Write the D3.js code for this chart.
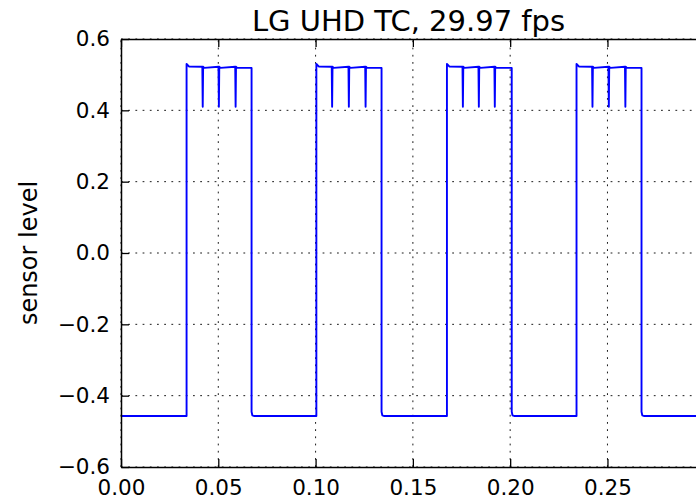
<!DOCTYPE html>
<html>
<head>
<meta charset="utf-8">
<script src="https://cdn.jsdelivr.net/npm/d3@7"></script>
<style>
  body { margin: 0; background: #fff; }
  text { font-family: "DejaVu Sans", sans-serif; fill: #000; }
</style>
</head>
<body>
<div id="viz-container"></div>
<script>
// Data
const title = "LG UHD TC, 29.97 fps";
const yLabel = "sensor level";
const xTicks = [0.00, 0.05, 0.10, 0.15, 0.20, 0.25];
const yTicks = [-0.6, -0.4, -0.2, 0.0, 0.2, 0.4, 0.6];
const xDomain = [0, 0.2955];
const yDomain = [-0.6, 0.6];

// pulse edges (s) and the short dips inside each high phase
const riseTimes = [0.0337, 0.1004, 0.1675, 0.2341];
const fallTimes = [0.0671, 0.1339, 0.2008, 0.2675];
const dipTimes = [
    [0.0420, 0.0503, 0.0589],
    [0.1085, 0.1171, 0.1257],
    [0.1757, 0.1839, 0.1921],
    [0.2423, 0.2507, 0.2592]
];
const lowLevel = -0.457;
const highLevel = 0.519;
const peakLevel = 0.530;
const dipLevel = 0.41;
const endTime = 0.30;

// Build the waveform vertex list from the edges
const signal = [{ t: 0, v: lowLevel }];
riseTimes.forEach((r, i) => {
    signal.push({ t: r, v: lowLevel });
    signal.push({ t: r, v: peakLevel });
    signal.push({ t: r + 0.0012, v: highLevel + 0.004 });
    dipTimes[i].forEach(d => {
        signal.push({ t: d - 0.0002, v: highLevel + 0.003 });
        signal.push({ t: d, v: dipLevel });
        signal.push({ t: d + 0.0002, v: highLevel + 0.003 });
        signal.push({ t: d + 0.0008, v: highLevel });
    });
    signal.push({ t: fallTimes[i], v: highLevel });
    signal.push({ t: fallTimes[i], v: lowLevel + 0.012 });
    signal.push({ t: fallTimes[i] + 0.0004, v: lowLevel + 0.002 });
    signal.push({ t: fallTimes[i] + 0.0012, v: lowLevel });
});
signal.push({ t: endTime, v: lowLevel });

const W = 696, H = 500;
const margin = { top: 39, right: 0, bottom: 33, left: 121 };

const svg = d3.select("#viz-container")
    .append("svg")
    .attr("width", W)
    .attr("height", H)
    .style("display", "block");

svg.append("rect").attr("width", W).attr("height", H).attr("fill", "#fff");

const x = d3.scaleLinear().domain(xDomain).range([margin.left, W - margin.right]);
const y = d3.scaleLinear().domain(yDomain).range([H - margin.bottom, margin.top]);

// Grid (dotted, matplotlib classic)
const grid = svg.append("g").attr("stroke", "#000").attr("stroke-width", 0.9)
    .attr("stroke-dasharray", "1.8,5.4");
grid.selectAll("line.gx").data(xTicks).enter().append("line")
    .attr("x1", d => x(d)).attr("x2", d => x(d))
    .attr("y1", y(yDomain[0])).attr("y2", y(yDomain[1]));
grid.selectAll("line.gy").data(yTicks).enter().append("line")
    .attr("x1", x(xDomain[0])).attr("x2", x(xDomain[1]))
    .attr("y1", d => y(d)).attr("y2", d => y(d));

// Signal
const line = d3.line().x(d => x(d.t)).y(d => y(d.v));
svg.append("defs").append("clipPath").attr("id", "clip")
    .append("rect")
    .attr("x", x(xDomain[0])).attr("y", y(yDomain[1]))
    .attr("width", x(xDomain[1]) - x(xDomain[0]))
    .attr("height", y(yDomain[0]) - y(yDomain[1]));
svg.append("path")
    .datum(signal)
    .attr("clip-path", "url(#clip)")
    .attr("fill", "none")
    .attr("stroke", "#0000ff")
    .attr("stroke-width", 1.9)
    .attr("stroke-linejoin", "round")
    .attr("d", line);

// Axes: ticks inside, on all sides
const tickLen = 8;
const fmtX = d3.format(".2f"), fmtY = d3.format(".1f");

const axBottom = svg.append("g")
    .attr("transform", `translate(0,${y(yDomain[0])})`)
    .call(d3.axisBottom(x).tickValues(xTicks).tickFormat(fmtX)
        .tickSizeInner(-tickLen).tickSizeOuter(0).tickPadding(13));
const axTop = svg.append("g")
    .attr("transform", `translate(0,${y(yDomain[1])})`)
    .call(d3.axisTop(x).tickValues(xTicks).tickFormat("")
        .tickSizeInner(-tickLen).tickSizeOuter(0));
const axLeft = svg.append("g")
    .attr("transform", `translate(${x(xDomain[0])},0)`)
    .call(d3.axisLeft(y).tickValues(yTicks).tickFormat(fmtY)
        .tickSizeInner(-tickLen).tickSizeOuter(0).tickPadding(11));

[axBottom, axTop, axLeft].forEach(g => {
    g.select(".domain").attr("stroke", "#000").attr("stroke-width", 1.5);
    g.selectAll(".tick line").attr("stroke", "#000").attr("stroke-width", 1.3);
    g.selectAll(".tick text")
        .attr("font-family", "DejaVu Sans, sans-serif")
        .attr("font-size", "21.5px")
        .attr("fill", "#000");
});
axBottom.selectAll(".tick text").attr("dy", "0.71em");

// Title & label
svg.append("text")
    .attr("x", (x(xDomain[0]) + x(xDomain[1])) / 2)
    .attr("y", 31)
    .attr("text-anchor", "middle")
    .attr("font-size", "29px")
    .text(title);

svg.append("text")
    .attr("transform", `translate(37,${(y(yDomain[0]) + y(yDomain[1])) / 2}) rotate(-90)`)
    .attr("text-anchor", "middle")
    .attr("font-size", "24px")
    .text(yLabel);
</script>
</body>
</html>
